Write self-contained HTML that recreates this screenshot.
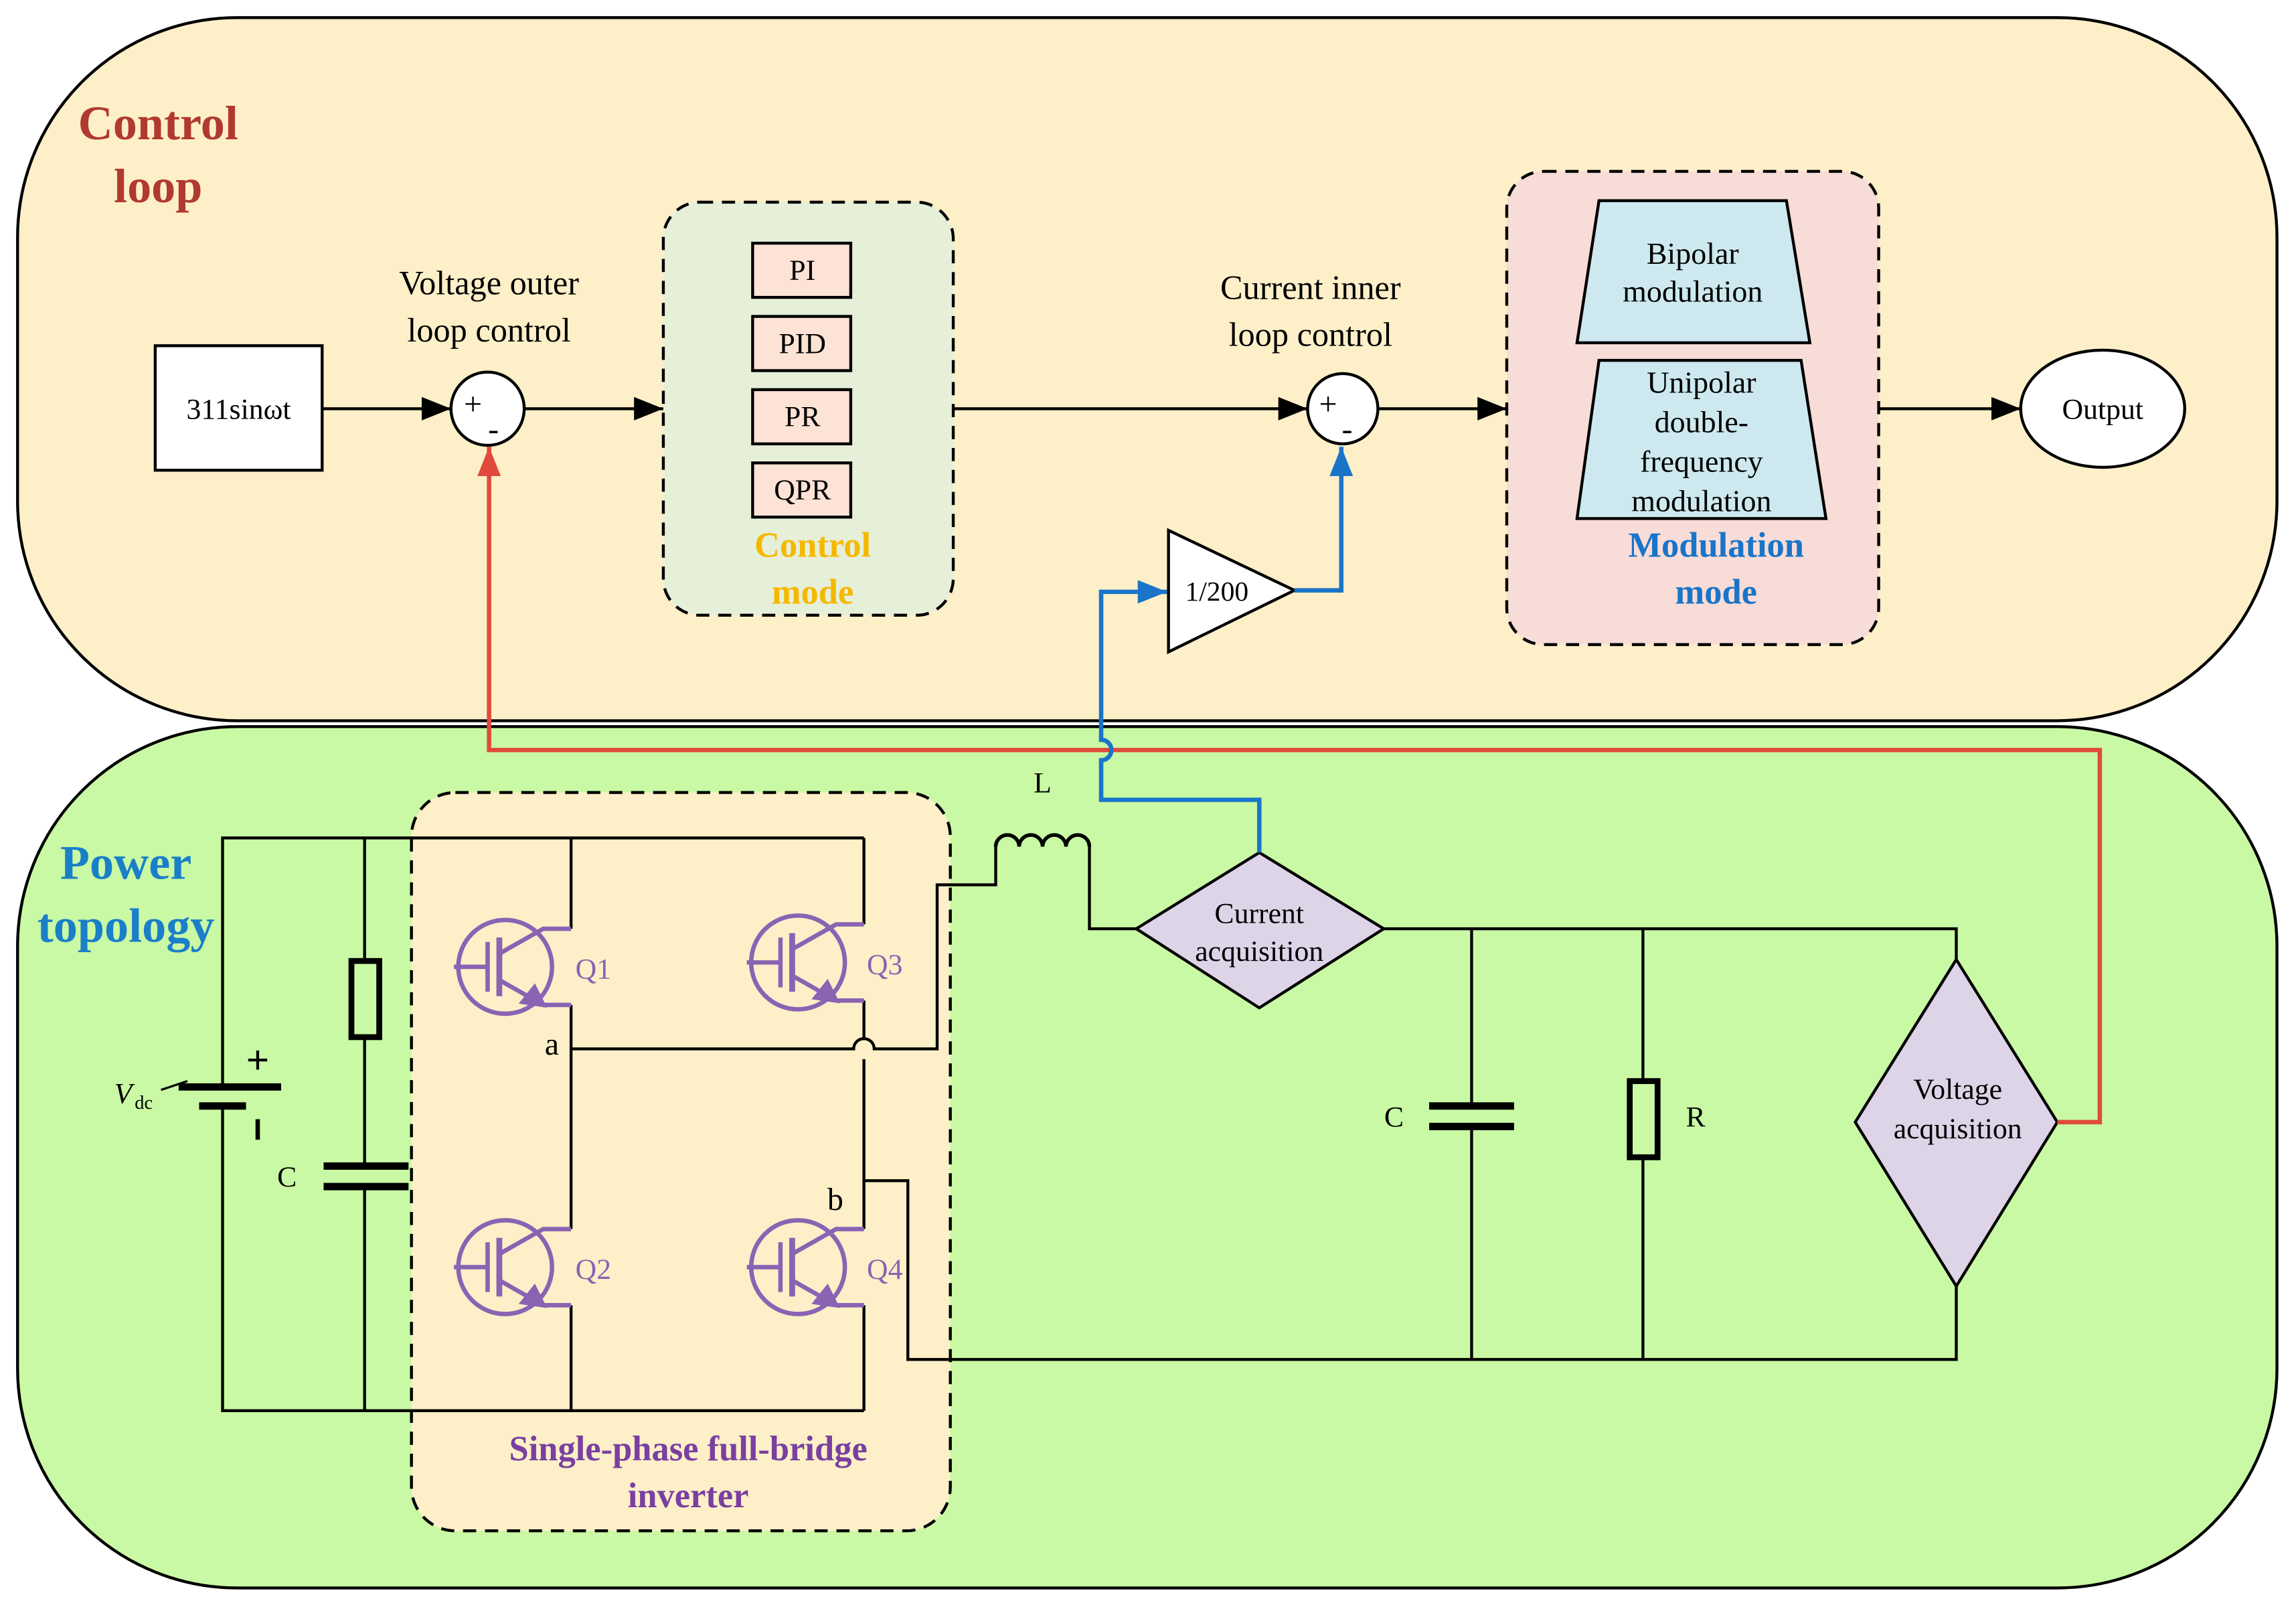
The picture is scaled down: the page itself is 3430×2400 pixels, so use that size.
<!DOCTYPE html>
<html><head><meta charset="utf-8"><style>html,body{margin:0;padding:0;background:#fff}svg{display:block}</style></head>
<body>
<svg width="3430" height="2400" viewBox="0 0 1568 1097" preserveAspectRatio="none" xmlns="http://www.w3.org/2000/svg" font-family="Liberation Serif, serif">
<defs>
<marker id="ab" markerWidth="10" markerHeight="8" refX="9" refY="4" orient="auto" markerUnits="userSpaceOnUse"><path d="M0,0 L20,4 L0,8 Z" transform="scale(0.5,1)" fill="#000"/></marker>
<marker id="ak" viewBox="0 0 10 8" markerWidth="22" markerHeight="16" refX="10" refY="4" orient="auto" markerUnits="userSpaceOnUse"><path d="M0,0 L10,4 L0,8 Z" fill="#000"/></marker>
<marker id="ar" viewBox="0 0 10 8" markerWidth="20" markerHeight="16" refX="10" refY="4" orient="auto" markerUnits="userSpaceOnUse"><path d="M0,0 L10,4 L0,8 Z" fill="#e04a3c"/></marker>
<marker id="abl" viewBox="0 0 10 8" markerWidth="20" markerHeight="16" refX="10" refY="4" orient="auto" markerUnits="userSpaceOnUse"><path d="M0,0 L10,4 L0,8 Z" fill="#1a74c8"/></marker>
<g id="tr" stroke="#8a63b3" fill="none" stroke-width="3">
<circle cx="0" cy="0" r="32"/>
<line x1="-35" y1="0" x2="-12" y2="0"/>
<line x1="-12" y1="-17" x2="-12" y2="17"/>
<line x1="-4" y1="-20" x2="-4" y2="20" stroke-width="4"/>
<polyline points="-4,-9 26,-26 45,-26"/>
<polyline points="-4,9 26,26 45,26"/>
<path d="M26,26 L12,24 L20,14 Z" fill="#8a63b3"/>
</g>
</defs>

<!-- panels -->
<rect x="12" y="12" width="1543" height="480" rx="150" fill="#fdefc8" stroke="#000" stroke-width="2"/>
<rect x="12" y="496" width="1543" height="588" rx="150" fill="#c9f9a4" stroke="#000" stroke-width="2"/>

<text x="108" y="95" font-size="33" font-weight="bold" fill="#b03a2e" text-anchor="middle">Control</text>
<text x="108" y="138" font-size="33" font-weight="bold" fill="#b03a2e" text-anchor="middle">loop</text>
<text x="86" y="600" font-size="33" font-weight="bold" fill="#1a7fc8" text-anchor="middle">Power</text>
<text x="86" y="643" font-size="33" font-weight="bold" fill="#1a7fc8" text-anchor="middle">topology</text>

<!-- control loop -->
<rect x="106" y="236" width="114" height="85" fill="#fff" stroke="#000" stroke-width="2"/>
<text x="163" y="286" font-size="20" text-anchor="middle">311sinωt</text>
<text x="334" y="201" font-size="23" text-anchor="middle">Voltage outer</text>
<text x="334" y="233" font-size="23" text-anchor="middle">loop control</text>
<text x="895" y="204" font-size="23" text-anchor="middle">Current inner</text>
<text x="895" y="236" font-size="23" text-anchor="middle">loop control</text>

<g stroke="#000" stroke-width="2" fill="none">
<line x1="220" y1="279" x2="308" y2="279" marker-end="url(#ak)"/>
<line x1="358" y1="279" x2="453" y2="279" marker-end="url(#ak)"/>
<line x1="651" y1="279" x2="893" y2="279" marker-end="url(#ak)"/>
<line x1="941" y1="279" x2="1029" y2="279" marker-end="url(#ak)"/>
<line x1="1283" y1="279" x2="1380" y2="279" marker-end="url(#ak)"/>
</g>
<circle cx="333" cy="279" r="25" fill="#fff" stroke="#000" stroke-width="2"/>
<text x="323" y="283" font-size="22" text-anchor="middle">+</text>
<text x="337" y="300" font-size="22" text-anchor="middle">-</text>
<circle cx="917" cy="279" r="24" fill="#fff" stroke="#000" stroke-width="2"/>
<text x="907" y="283" font-size="22" text-anchor="middle">+</text>
<text x="920" y="300" font-size="22" text-anchor="middle">-</text>

<rect x="453" y="138" width="198" height="282" rx="25" fill="#e6efd8" stroke="#000" stroke-width="2" stroke-dasharray="9,6"/>
<g fill="#fde3d5" stroke="#000" stroke-width="2">
<rect x="514" y="166" width="67" height="37"/><rect x="514" y="216" width="67" height="37"/>
<rect x="514" y="266" width="67" height="37"/><rect x="514" y="316" width="67" height="37"/>
</g>
<g font-size="20" text-anchor="middle">
<text x="548" y="191">PI</text><text x="548" y="241">PID</text><text x="548" y="291">PR</text><text x="548" y="341">QPR</text>
</g>
<text x="555" y="380" font-size="24" font-weight="bold" fill="#f5b800" text-anchor="middle">Control</text>
<text x="555" y="412" font-size="24" font-weight="bold" fill="#f5b800" text-anchor="middle">mode</text>

<rect x="1029" y="117" width="254" height="323" rx="25" fill="#f8dcd8" stroke="#000" stroke-width="2" stroke-dasharray="9,6"/>
<polygon points="1092,137 1220,137 1236,234 1077,234" fill="#cde9ef" stroke="#000" stroke-width="2"/>
<polygon points="1092,246 1230,246 1247,354 1077,354" fill="#cde9ef" stroke="#000" stroke-width="2"/>
<g font-size="21" text-anchor="middle">
<text x="1156" y="180">Bipolar</text><text x="1156" y="206">modulation</text>
<text x="1162" y="268">Unipolar</text><text x="1162" y="295">double-</text><text x="1162" y="322">frequency</text><text x="1162" y="349">modulation</text>
</g>
<text x="1172" y="380" font-size="24" font-weight="bold" fill="#1a74c8" text-anchor="middle">Modulation</text>
<text x="1172" y="412" font-size="24" font-weight="bold" fill="#1a74c8" text-anchor="middle">mode</text>

<ellipse cx="1436" cy="279" rx="56" ry="40" fill="#fff" stroke="#000" stroke-width="2"/>
<text x="1436" y="286" font-size="20" text-anchor="middle">Output</text>

<polygon points="798,362 798,445 884,403" fill="#fff" stroke="#000" stroke-width="2"/>
<text x="831" y="410" font-size="19" text-anchor="middle">1/200</text>

<!-- power circuit -->
<rect x="281" y="541" width="368" height="504" rx="30" fill="#fdefc8" stroke="#000" stroke-width="2" stroke-dasharray="9,6"/>
<text x="470" y="997" font-size="24" font-weight="bold" fill="#7a3fa0" text-anchor="middle">Single-phase full-bridge</text>
<text x="470" y="1029" font-size="24" font-weight="bold" fill="#7a3fa0" text-anchor="middle">inverter</text>

<g stroke="#000" stroke-width="2" fill="none">
<polyline points="152,742 152,572 590,572"/>
<polyline points="152,754 152,963 590,963"/>
<line x1="249" y1="572" x2="249" y2="656"/>
<line x1="249" y1="708" x2="249" y2="796"/>
<line x1="249" y1="810" x2="249" y2="963"/>
<line x1="390" y1="572" x2="390" y2="634"/>
<line x1="390" y1="686" x2="390" y2="839"/>
<line x1="390" y1="891" x2="390" y2="963"/>
<line x1="590" y1="572" x2="590" y2="631"/>
<line x1="590" y1="683" x2="590" y2="709"/>
<path d="M590,723 L590,839"/>
<line x1="590" y1="891" x2="590" y2="963"/>
<path d="M390,716 L583,716 A7,7 0 0 1 597,716 L640,716 L640,604 L680,604 L680,578"/>
<path d="M680,578 a8,8 0 0 1 16,0 a8,8 0 0 1 16,0 a8,8 0 0 1 16,0 a8,8 0 0 1 16,0" stroke-width="2.5"/>
<polyline points="744,578 744,634 776,634"/>
<polyline points="590,806 620,806 620,928 1336,928 1336,878"/>
<polyline points="945,634 1336,634 1336,655"/>
<line x1="1005" y1="634" x2="1005" y2="755"/>
<line x1="1005" y1="769" x2="1005" y2="928"/>
<line x1="1122" y1="634" x2="1122" y2="738"/>
<line x1="1122" y1="790" x2="1122" y2="928"/>
</g>
<!-- battery -->
<line x1="122" y1="742" x2="192" y2="742" stroke="#000" stroke-width="5"/>
<line x1="136" y1="755" x2="168" y2="755" stroke="#000" stroke-width="5"/>
<text x="176" y="733" font-size="28" font-weight="bold" text-anchor="middle">+</text>
<line x1="176" y1="764" x2="176" y2="778" stroke="#000" stroke-width="3"/>
<text x="78" y="753" font-size="20" font-style="italic">V</text><text x="92" y="757" font-size="13">dc</text>
<line x1="110" y1="744" x2="128" y2="738" stroke="#000" stroke-width="1.5"/>
<!-- left R & C -->
<rect x="240" y="656" width="19" height="52" fill="none" stroke="#000" stroke-width="4"/>
<line x1="221" y1="796" x2="279" y2="796" stroke="#000" stroke-width="5"/>
<line x1="221" y1="810" x2="279" y2="810" stroke="#000" stroke-width="5"/>
<text x="196" y="810" font-size="20" text-anchor="middle">C</text>
<!-- right C & R -->
<line x1="976" y1="755" x2="1034" y2="755" stroke="#000" stroke-width="5"/>
<line x1="976" y1="769" x2="1034" y2="769" stroke="#000" stroke-width="5"/>
<text x="952" y="769" font-size="20" text-anchor="middle">C</text>
<rect x="1113" y="738" width="19" height="52" fill="none" stroke="#000" stroke-width="4"/>
<text x="1158" y="769" font-size="20" text-anchor="middle">R</text>
<text x="712" y="541" font-size="20" text-anchor="middle">L</text>

<!-- transistors -->
<use href="#tr" x="345" y="660"/>
<use href="#tr" x="345" y="865"/>
<use href="#tr" x="545" y="657"/>
<use href="#tr" x="545" y="865"/>
<g font-size="20" fill="#8a63b3">
<text x="393" y="668">Q1</text><text x="393" y="873">Q2</text><text x="592" y="665">Q3</text><text x="592" y="873">Q4</text>
</g>
<text x="372" y="720" font-size="22">a</text>
<text x="565" y="826" font-size="22">b</text>

<!-- diamonds -->
<polygon points="776,634 860,582 945,634 860,688" fill="#ded4e8" stroke="#000" stroke-width="2"/>
<text x="860" y="630" font-size="20" text-anchor="middle">Current</text>
<text x="860" y="656" font-size="20" text-anchor="middle">acquisition</text>
<polygon points="1336,655 1405,766 1336,878 1267,766" fill="#ded4e8" stroke="#000" stroke-width="2"/>
<text x="1337" y="750" font-size="20" text-anchor="middle">Voltage</text>
<text x="1337" y="777" font-size="20" text-anchor="middle">acquisition</text>

<!-- feedback lines -->
<polyline points="1405,766 1434,766 1434,512 334,512 334,305" fill="none" stroke="#e04a3c" stroke-width="3" marker-end="url(#ar)"/>
<path d="M860,582 L860,546 L752,546 L752,519 A7,7 0 0 0 752,505 L752,404 L797,404" fill="none" stroke="#1a74c8" stroke-width="3" marker-end="url(#abl)"/>
<polyline points="884,403 916,403 916,305" fill="none" stroke="#1a74c8" stroke-width="3" marker-end="url(#abl)"/>
</svg>
</body></html>
